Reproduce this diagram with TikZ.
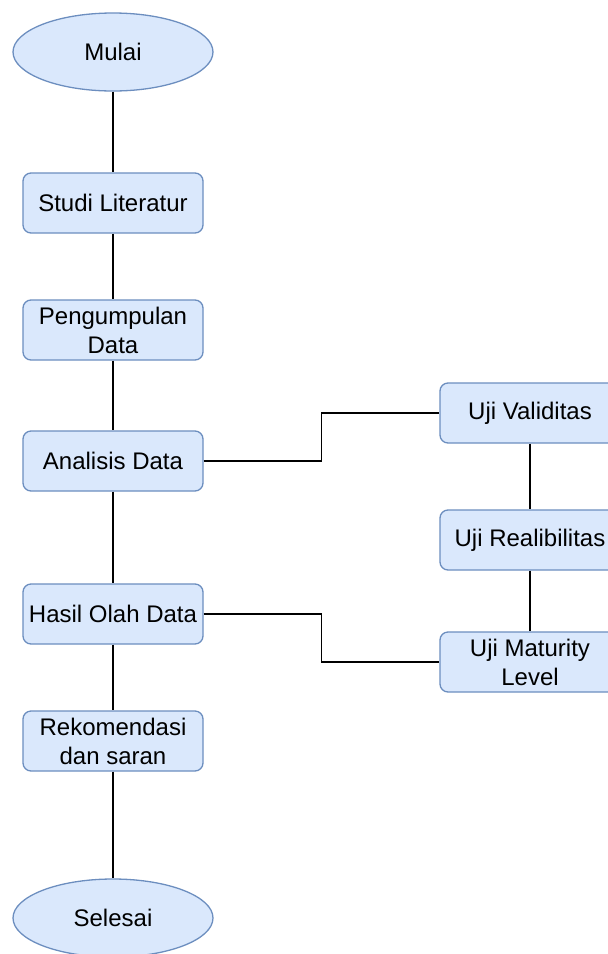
\documentclass[tikz,border=0pt]{standalone}
\usepackage{fontspec}
\setmainfont{Liberation Sans}
\usetikzlibrary{shapes.geometric}
\definecolor{boxfill}{HTML}{DAE8FC}
\definecolor{boxline}{HTML}{6C8EBF}
\tikzset{
  procbox/.style={draw=boxline, fill=boxfill, rounded corners=8pt, line width=1.3pt,
    minimum width=180pt, minimum height=60pt, inner sep=0pt, align=center,
    font=\fontsize{24}{29}\selectfont},
  termbox/.style={ellipse, draw=boxline, fill=boxfill, line width=1.3pt,
    minimum width=200pt, minimum height=78pt, inner sep=0pt,
    font=\fontsize{24}{29}\selectfont},
  link/.style={draw=black, line width=1.6pt}
}
\begin{document}
\begin{tikzpicture}[x=1pt,y=-1pt]
\useasboundingbox (0,0) rectangle (608,954);
% main column
\node[termbox] (mulai) at (113,52) {Mulai};
\node[procbox] (studi) at (113,203) {Studi Literatur};
\node[procbox] (kumpul) at (113,330) {Pengumpulan\\Data};
\node[procbox] (analisis) at (113,461) {Analisis Data};
\node[procbox] (hasil) at (113,614) {Hasil Olah Data};
\node[procbox] (rekom) at (113,741) {Rekomendasi\\dan saran};
\node[termbox] (selesai) at (113,918) {Selesai};
% right column
\node[procbox] (validitas) at (530,413) {Uji Validitas};
\node[procbox] (reliabilitas) at (530,540) {Uji Realibilitas};
\node[procbox] (maturity) at (530,662) {Uji Maturity\\Level};
% connectors
\draw[link] (mulai) -- (studi);
\draw[link] (studi) -- (kumpul);
\draw[link] (kumpul) -- (analisis);
\draw[link] (analisis) -- (hasil);
\draw[link] (hasil) -- (rekom);
\draw[link] (rekom) -- (selesai);
\draw[link] (validitas) -- (reliabilitas);
\draw[link] (reliabilitas) -- (maturity);
\draw[link] (analisis.east) -- ++(118,0) |- (validitas.west);
\draw[link] (hasil.east) -- ++(118,0) |- (maturity.west);
\end{tikzpicture}
\end{document}
